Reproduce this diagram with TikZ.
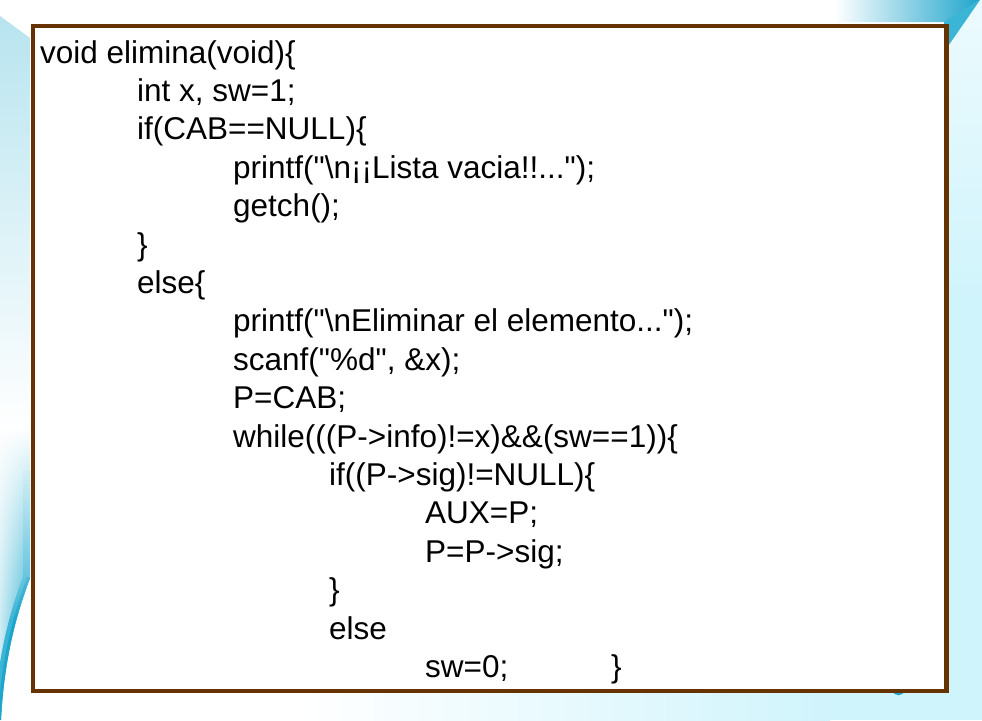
\documentclass[tikz,border=0pt]{standalone}
\usepackage{fontspec}
\setmainfont{Liberation Sans}
\usetikzlibrary{fadings}
\definecolor{boxbrown}{HTML}{663300}
\definecolor{teal1}{HTML}{1FA5CC}
\definecolor{teal2}{HTML}{3BB5D5}
\definecolor{cyanbg}{HTML}{D0F4FC}
\definecolor{lightblue}{HTML}{B8E4EF}
\begin{document}
\begin{tikzpicture}[x=1pt,y=-1pt,
  codeline/.style={anchor=base west,inner sep=0pt,font=\fontsize{31.5}{36}\selectfont},
  frame/.style={draw=boxbrown,line width=4.2pt,fill=white}]
\useasboundingbox (0,0) rectangle (982,720);
% background
\fill[white] (0,0) rectangle (982,720);
\shade[left color=white,right color=cyanbg] (300,686) rectangle (830,720);
\fill[cyanbg] (830,686) rectangle (982,720);
\shade[top color=cyanbg!40,bottom color=cyanbg] (944,0) rectangle (982,300);
\fill[cyanbg] (944,299) rectangle (982,700);
% top-right band and fold
\shade[left color=white,right color=teal1] (835,0) -- (980,0) -- (946,22) -- (835,22) -- cycle;
\fill[teal2] (944,22) -- (944,52) -- (980,0) -- cycle;
% left strip
\shade[top color=lightblue,bottom color=white] (0,16) -- (30,38) -- (30,430) -- (0,430) -- cycle;
\begin{scope}
  \clip (0,429) -- (30,429) -- (30,578) .. controls (16,615) and (4,660) .. (1,720) -- (0,720) -- cycle;
  \shade[left color=lightblue!70,right color=teal2] (0,429) rectangle (30,720);
  \draw[teal2,line width=14pt] (30,470) -- (30,578) .. controls (16,615) and (4,660) .. (1,720);
  \draw[teal1,line width=6pt] (30,578) .. controls (16,615) and (4,660) .. (1,720);
  \fill[white,path fading=south] (0,428) rectangle (30,620);
\end{scope}
% hidden slide number hint
\draw[teal1,line width=2.4pt] (898.5,690.5) ellipse [x radius=4.5,y radius=3.5];
% code box
\node[frame,minimum width=913.8pt,minimum height=664.8pt,anchor=north west,inner sep=0pt] (box) at (30.5,24) {};
\node[codeline] (l0) at (40,63) {void elimina(void)\{};
\node[codeline] (l1) at (137,101.4) {int x, sw=1;};
\node[codeline] (l2) at (137,139.8) {if(CAB==NULL)\{};
\node[codeline] (l3) at (233,178.2) {printf(\textquotedbl\textbackslash n¡¡Lista vacia!!...\textquotedbl);};
\node[codeline] (l4) at (233,216.6) {getch();};
\node[codeline] (l5) at (137,255) {\}};
\node[codeline] (l6) at (137,293.4) {else\{};
\node[codeline] (l7) at (233,331.8) {printf(\textquotedbl\textbackslash nEliminar el elemento...\textquotedbl);};
\node[codeline] (l8) at (233,370.2) {scanf(\textquotedbl\%d\textquotedbl, \&x);};
\node[codeline] (l9) at (233,408.6) {P=CAB;};
\node[codeline] (l10) at (233,447) {while(((P->info)!=x)\&\&(sw==1))\{};
\node[codeline] (l11) at (329,485.4) {if((P->sig)!=NULL)\{};
\node[codeline] (l12) at (425,523.8) {AUX=P;};
\node[codeline] (l13) at (425,562.2) {P=P->sig;};
\node[codeline] (l14) at (329,600.6) {\}};
\node[codeline] (l15) at (329,639) {else};
\node[codeline] (l16) at (425,677.4) {sw=0;};
\node[codeline] (l17) at (611,677.4) {\}};
\end{tikzpicture}
\end{document}
